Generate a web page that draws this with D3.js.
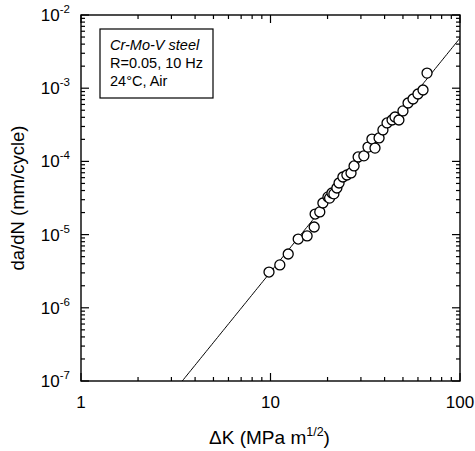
<!DOCTYPE html>
<html><head><meta charset="utf-8">
<script src="https://cdn.jsdelivr.net/npm/d3@7"></script>
<style>body{margin:0;background:#fff}svg{display:block}text{font-family:"Liberation Sans",Arial,sans-serif;fill:#000}</style>
</head><body>
<script>
const deltaK = [9.82,11.2,12.4,14.0,15.6,17.0,17.2,18.2,18.9,20.1,20.5,21.1,21.6,22.4,23.0,24.1,25.3,26.6,27.6,29.0,31.1,32.7,34.3,35.6,37.4,39.2,41.2,43.8,45.4,47.6,50.0,53.2,56.5,60.0,63.8,67.0];
const dadN = [3.08e-6,3.85e-6,5.43e-6,8.7e-6,9.6e-6,1.27e-5,1.91e-5,2.04e-5,2.70e-5,3.27e-5,3.15e-5,3.70e-5,3.6e-5,4.33e-5,5.07e-5,6.12e-5,6.52e-5,6.95e-5,8.66e-5,1.15e-4,1.19e-4,1.57e-4,2.02e-4,1.52e-4,2.09e-4,2.69e-4,3.35e-4,3.68e-4,4.04e-4,3.68e-4,4.89e-4,6.28e-4,7.12e-4,8.33e-4,9.45e-4,1.61e-3];
const parisC = 1.96e-9, parisM = 3.196;
const xTicks = [1,10,100];
const yTickExps = [-7,-6,-5,-4,-3,-2];
const legendLines = ["Cr-Mo-V steel","R=0.05, 10 Hz","24°C, Air"];

const W=475,H=451, L=81,R=460,T=15,B=381;
const svg=d3.select("body").append("svg").attr("width",W).attr("height",H);
const x=d3.scaleLog().domain([1,100]).range([L,R]);
const y=d3.scaleLog().domain([1e-7,1e-2]).range([B,T]);

svg.append("defs").append("clipPath").attr("id","c").append("rect").attr("x",L).attr("y",T).attr("width",R-L).attr("height",B-T);

const xMinor=[],yMinor=[];
for(let d=1;d<100;d*=10)for(let k=2;k<=9;k++)xMinor.push(d*k);
for(let e=-7;e<-2;e++)for(let k=2;k<=9;k++)yMinor.push(k*Math.pow(10,e));
const g=svg.append("g").attr("stroke","#000").attr("stroke-width",1.2);
const maj=8,mn=4;
xMinor.forEach(v=>{g.append("line").attr("x1",x(v)).attr("x2",x(v)).attr("y1",B).attr("y2",B-mn);g.append("line").attr("x1",x(v)).attr("x2",x(v)).attr("y1",T).attr("y2",T+mn);});
xTicks.forEach(v=>{g.append("line").attr("x1",x(v)).attr("x2",x(v)).attr("y1",B).attr("y2",B-maj);g.append("line").attr("x1",x(v)).attr("x2",x(v)).attr("y1",T).attr("y2",T+maj);});
yMinor.forEach(v=>{g.append("line").attr("y1",y(v)).attr("y2",y(v)).attr("x1",L).attr("x2",L+mn);g.append("line").attr("y1",y(v)).attr("y2",y(v)).attr("x1",R).attr("x2",R-mn);});
yTickExps.forEach(e=>{const v=Math.pow(10,e);g.append("line").attr("y1",y(v)).attr("y2",y(v)).attr("x1",L).attr("x2",L+maj);g.append("line").attr("y1",y(v)).attr("y2",y(v)).attr("x1",R).attr("x2",R-maj);});
svg.append("rect").attr("x",L).attr("y",T).attr("width",R-L).attr("height",B-T).attr("fill","none").attr("stroke","#000").attr("stroke-width",1.4);

xTicks.forEach(v=>svg.append("text").attr("x",x(v)).attr("y",B+27).attr("text-anchor","middle").attr("font-size",17).text(v));
yTickExps.forEach(e=>{const t=svg.append("text").attr("x",L-11).attr("y",y(Math.pow(10,e))+6).attr("text-anchor","end").attr("font-size",17);
 t.append("tspan").text("10");t.append("tspan").attr("font-size",11.5).attr("dy",-8).text(e);});
svg.append("text").attr("transform",`translate(24,${(T+B)/2}) rotate(-90)`).attr("text-anchor","middle").attr("font-size",18.5).text("da/dN (mm/cycle)");
const xt=svg.append("text").attr("x",(L+R)/2-1).attr("y",444).attr("text-anchor","middle").attr("font-size",19);
xt.append("tspan").text("ΔK (MPa m");xt.append("tspan").attr("font-size",12.5).attr("dy",-8).text("1/2");xt.append("tspan").attr("dy",8).text(")");

const ks=d3.range(0,2.001,0.01).map(l=>Math.pow(10,l));
svg.append("path").attr("clip-path","url(#c)").attr("d",d3.line().x(k=>x(k)).y(k=>y(parisC*Math.pow(k,parisM)))(ks)).attr("fill","none").attr("stroke","#000").attr("stroke-width",1);

svg.append("g").selectAll("circle").data(deltaK).join("circle").attr("cx",d=>x(d)).attr("cy",(d,i)=>y(dadN[i])).attr("r",5).attr("fill","#fff").attr("stroke","#000").attr("stroke-width",1.3);

svg.append("rect").attr("x",100).attr("y",29).attr("width",113).attr("height",69).attr("fill","#fff").attr("stroke","#000").attr("stroke-width",1.2);
legendLines.forEach((s,i)=>svg.append("text").attr("x",110).attr("y",50+i*18).attr("font-size",14.5).attr("font-style",i==0?"italic":"normal").text(s));
</script>
</body></html>
